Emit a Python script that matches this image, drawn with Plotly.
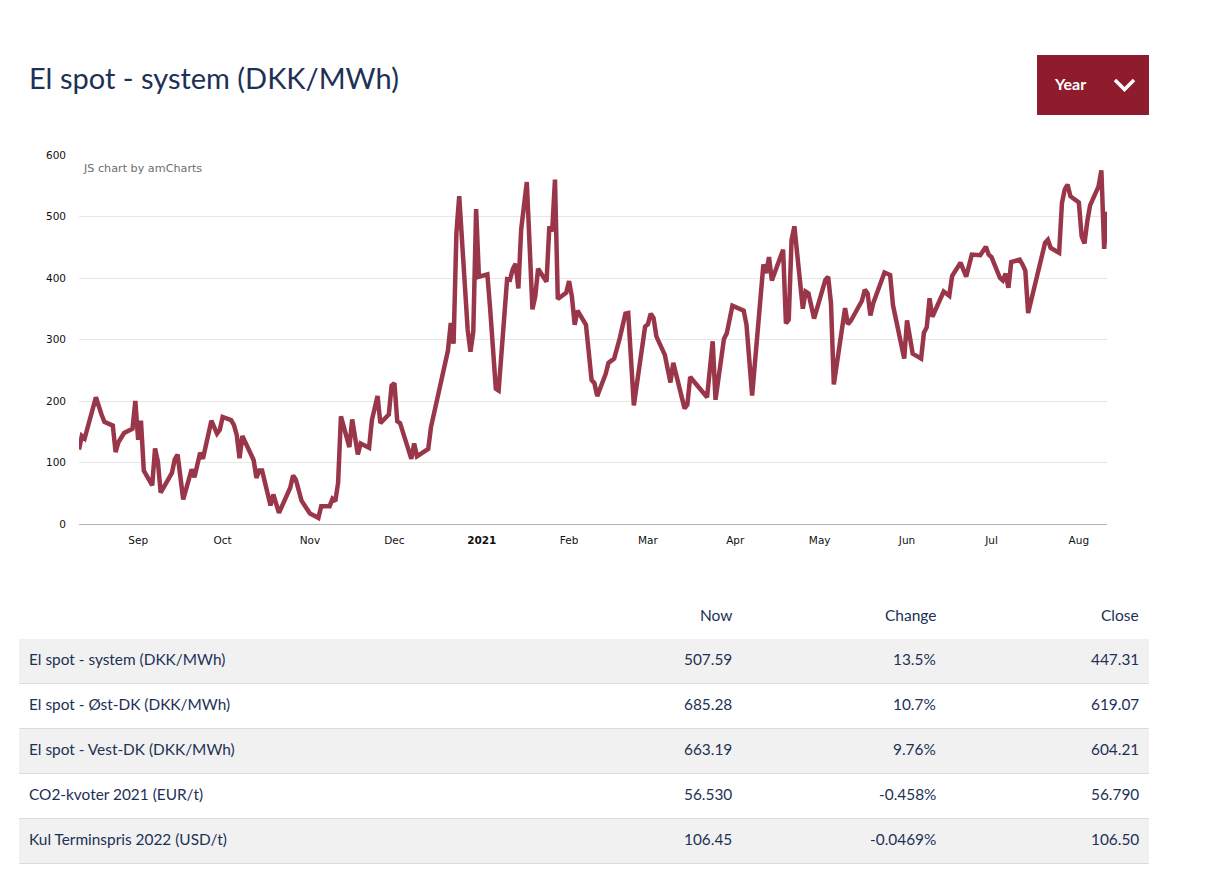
import datetime as dt
import plotly.graph_objects as go

W, H = 1216, 882
START = dt.date(2020, 8, 11)

day_offset = [0,1,2,6,8,9,12,13,14,16,19,20,21,22,23,26,27,28,29,31,33,34,35,37,40,41,43,44,47,49,50,51,54,55,56,57,58,62,63,64,65,68,69,71,75,76,77,79,82,85,86,89,90,91,92,93,96,97,99,100,103,104,106,107,110,111,112,113,114,118,119,120,
124,125,127,129,131,132,133,134,135,138,139,140,141,142,145,146,147,148,149,152,153,154,155,156,157,159,161,162,163,166,167,168,169,170,173,174,175,176,177,180,182,183,184,187,188,190,192,194,195,197,201,202,203,204,205,208,210,211,215,216,217,223,225,226,229,230,232,236,237,239,
243,244,245,246,250,251,252,253,254,257,258,259,261,265,266,267,268,272,273,274,278,279,280,281,282,286,288,289,293,294,296,299,300,301,302,303,307,309,310,313,315,317,320,322,323,324,327,328,329,330,331,334,335,336,337,343,344,345,348,349,350,351,352,355,356,357,358,359,362,363,364,365]
price = [121,143,139,206,178,166,160,117,133,148,155,200,137,168,87,63,123,102,51,68,83,105,113,40,89,76,116,106,168,147,153,174,169,161,145,107,143,104,75,87,87,30,48,18,59,79,72,38,17,10,29,29,41,37,67,175,125,170,113,131,124,169,208,164,178,225,229,167,164,106,131,110,
122,158,197,239,282,327,293,473,533,316,280,313,512,402,406,349,273,220,217,398,397,414,423,383,479,556,349,370,415,394,484,476,560,366,376,395,370,324,347,324,234,229,208,244,262,269,302,342,343,193,321,325,342,335,305,275,230,262,188,194,239,206,297,202,301,310,355,347,324,209,
422,408,434,396,446,326,332,462,484,350,378,375,334,397,402,359,227,351,325,330,363,381,375,339,359,409,405,356,269,331,277,269,311,320,367,337,378,371,403,425,402,438,437,451,438,434,400,396,407,384,426,430,422,412,343,457,462,449,441,522,544,552,533,523,468,456,492,518,549,575,447.31,507.59]

tick_dates = ["2020-09-01","2020-10-01","2020-11-01","2020-12-01","2021-01-01","2021-02-01","2021-03-01","2021-04-01","2021-05-01","2021-06-01","2021-07-01","2021-08-01"]
tick_labels = ["Sep","Oct","Nov","Dec","<b>2021</b>","Feb","Mar","Apr","May","Jun","Jul","Aug"]
y_ticks = [0,100,200,300,400,500,600]

title_text = "El spot - system (DKK/MWh)"
button_text = "Year"
col_headers = ["Now","Change","Close"]
row_names = ["El spot - system (DKK/MWh)","El spot - Øst-DK (DKK/MWh)","El spot - Vest-DK (DKK/MWh)","CO2-kvoter 2021 (EUR/t)","Kul Terminspris 2022 (USD/t)"]
now_vals = ["507.59","685.28","663.19","56.530","106.45"]
change_vals = ["13.5%","10.7%","9.76%","-0.458%","-0.0469%"]
close_vals = ["447.31","619.07","604.21","56.790","106.50"]

NAVY = "#1d3156"
FONT = "Lato"
px = lambda x: x / W
py = lambda y: 1 - y / H

dates = [(START + dt.timedelta(days=d)).isoformat() for d in day_offset]

fig = go.Figure(go.Scatter(x=dates, y=price, mode="lines", hoverinfo="skip",
                           line=dict(color="#9a3649", width=4.5, shape="linear")))

shapes, notes = [], []
def rect(x0, y0, x1, y1, color):
    shapes.append(dict(type="rect", xref="paper", yref="paper", x0=px(x0), x1=px(x1),
                       y0=py(y0), y1=py(y1), fillcolor=color, line=dict(width=0), layer="below"))
def hline(x0, x1, y, color, width=1):
    shapes.append(dict(type="line", xref="paper", yref="paper", x0=px(x0), x1=px(x1),
                       y0=py(y), y1=py(y), line=dict(color=color, width=width), layer="below"))
def text(x, y, s, size, color=NAVY, anchor="left", family=FONT):
    notes.append(dict(xref="paper", yref="paper", x=px(x), y=py(y), text=s, showarrow=False,
                      xanchor=anchor, yanchor="middle", xshift=-2 if anchor == "left" else 2,
                      font=dict(family=family, size=size, color=color)))

text(29, 77.5, title_text, 29)
text(83, 168, "JS chart by amCharts", 11.2, "#6e6e6e", family="DejaVu Sans")

rect(1037, 55, 1149, 115, "#8e1c2d")
text(1054, 83, "<b>" + button_text + "</b>", 16, "#ffffff")
shapes.append(dict(type="path", xref="paper", yref="paper",
                   path=f"M {px(1115)} {py(80)} L {px(1124.5)} {py(89.5)} L {px(1134)} {py(80)}",
                   line=dict(color="#ffffff", width=3.5)))

for cx, h in zip((732, 936, 1139), col_headers):
    text(cx, 615, h, 15.5, anchor="right")
for i, name in enumerate(row_names):
    top = 639 + 45 * i
    if i % 2 == 0:
        rect(19, top, 1149, top + 45, "#f1f1f1")
    hline(19, 1149, top + 45 - 0.5, "#dcdcdc")
    cy = top + 20
    text(29, cy, name, 15.4)
    text(732, cy, now_vals[i], 15.4, anchor="right")
    text(936, cy, change_vals[i], 15.4, anchor="right")
    text(1139, cy, close_vals[i], 15.4, anchor="right")

fig.update_layout(
    width=W, height=H, autosize=False,
    margin=dict(l=0, r=0, t=0, b=0, pad=0, autoexpand=False),
    paper_bgcolor="#ffffff", plot_bgcolor="#ffffff", showlegend=False,
    shapes=shapes, annotations=notes,
    xaxis=dict(domain=[px(79), px(1107)], type="date",
               range=[START.isoformat(), (START + dt.timedelta(days=365)).isoformat()],
               tickmode="array", tickvals=tick_dates, ticktext=tick_labels, showgrid=False,
               showline=True, linecolor="#b4b4b4", linewidth=1, ticks="", zeroline=False,
               ticklabelstandoff=6,
               tickfont=dict(family="DejaVu Sans", size=10.5, color="#111111")),
    yaxis=dict(domain=[py(524), py(155)], range=[0, 600], tickmode="array", tickvals=y_ticks,
               showgrid=True, gridcolor="#e6e6e6", gridwidth=1, zeroline=False, ticks="",
               ticklabelstandoff=12,
               tickfont=dict(family="DejaVu Sans", size=10.5, color="#111111")),
)

fig.write_html("out.html", config=dict(displayModeBar=False),
               post_script="document.body.style.margin='0';document.documentElement.style.overflow='hidden';")
